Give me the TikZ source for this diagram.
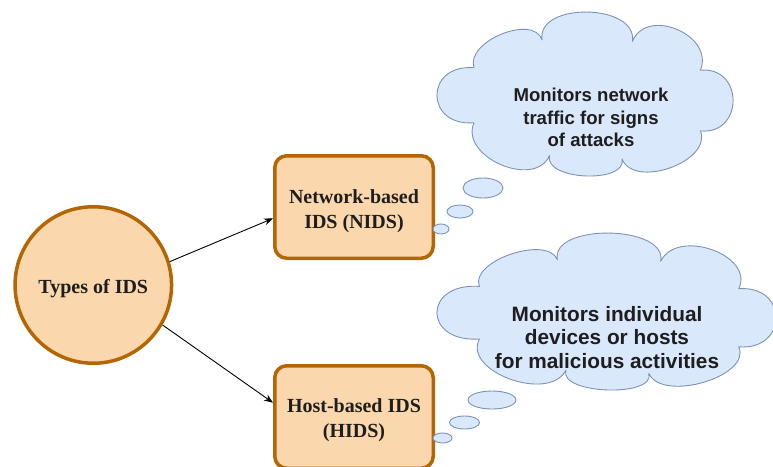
\documentclass[tikz,border=0pt]{standalone}
\usepackage{fontspec}
\setmainfont{Liberation Serif}
\setsansfont{Liberation Sans}
\usetikzlibrary{shapes.geometric,arrows.meta,calc}

\definecolor{peach}{HTML}{FAD7AC}
\definecolor{rust}{HTML}{B46504}
\definecolor{skyfill}{HTML}{DAE8FC}
\definecolor{skyline}{HTML}{7D93B5}
\definecolor{ink}{HTML}{1E1E1E}

% Outline of a thought cloud in a unit box (u to the right, v downwards)
\newcommand\cloudoutline{%
  (0.125,0.34) .. controls (0.095,0.18) and (0.325,0.01) .. (0.355,0.17)
  .. controls (0.335,-0.063) and (0.68,-0.053) .. (0.66,0.18)
  .. controls (0.708,-0.035) and (0.938,0.14) .. (0.89,0.355)
  .. controls (1.037,0.33) and (1.037,0.75) .. (0.89,0.725)
  .. controls (0.93,0.912) and (0.665,1.082) .. (0.625,0.895)
  .. controls (0.645,1.048) and (0.36,1.028) .. (0.38,0.875)
  .. controls (0.33,1.082) and (0.075,0.882) .. (0.125,0.675)
  .. controls (-0.042,0.70) and (-0.042,0.315) .. (0.125,0.34) -- cycle}

\tikzset{
  idsbox/.style={draw=rust, fill=peach, line width=3.5pt, rounded corners=12pt,
    minimum width=158.5pt, minimum height=102.5pt, inner sep=0pt},
  idscircle/.style={circle, draw=rust, fill=peach, line width=3.5pt,
    minimum size=156.5pt, inner sep=0pt},
  idstext/.style={align=center, text=ink, inner sep=0pt,
    font=\bfseries\fontsize{20}{24.5}\selectfont},
  cloudshape/.style={draw=skyline, fill=skyfill, line width=0.9pt, line join=round},
  bubble/.style={ellipse, draw=skyline, fill=skyfill, line width=0.9pt, inner sep=0pt},
  cloudtext/.style={align=center, text=ink, inner sep=0pt, font=\sffamily\bfseries},
  link/.style={draw=black, line width=0.9pt, -{Stealth[length=9pt,width=7pt]}},
}

\begin{document}
\begin{tikzpicture}[x=1pt, y=1pt]
  \fill[white] (0,0) rectangle (773,-466);
  \useasboundingbox (0,0) rectangle (773,-466);

  % thought clouds
  \begin{scope}[shift={(437,-12)}, xscale=296, yscale=-164]
    \draw[cloudshape] \cloudoutline;
  \end{scope}
  \begin{scope}[shift={(437,-233)}, xscale=339, yscale=-157]
    \draw[cloudshape] \cloudoutline;
  \end{scope}

  % root and the two kinds of IDS
  \node[idscircle] (types) at (93.3,-285) {};
  \node[idstext] (typestext) at (93.3,-289) {Types of IDS};

  \node[idsbox] (nids) at (354,-207) {};
  \node[idstext] (nidstext) at ($(nids.center)+(0,-4)$) {Network-based\\IDS (NIDS)};

  \node[idsbox] (hids) at (354,-417) {};
  \node[idstext] (hidstext) at ($(hids.center)+(0,-3)$) {Host-based IDS\\(HIDS)};

  % trailing bubbles of the clouds
  \node[bubble, minimum width=40pt, minimum height=20pt] (nb1) at (483,-188) {};
  \node[bubble, minimum width=26pt, minimum height=13pt] (nb2) at (460,-211.5) {};
  \node[bubble, minimum width=16pt, minimum height=10pt] (nb3) at (441,-229) {};

  \node[bubble, minimum width=48pt, minimum height=18pt] (hb1) at (492,-400) {};
  \node[bubble, minimum width=30pt, minimum height=13pt] (hb2) at (464.5,-422.5) {};
  \node[bubble, minimum width=19pt, minimum height=10pt] (hb3) at (442.5,-438) {};

  % cloud texts
  \node[cloudtext, font=\sffamily\bfseries\fontsize{18.6}{22.5}\selectfont]
    (nidsnote) at (591,-117.8) {Monitors network\\traffic for signs\\of attacks};
  \node[cloudtext, font=\sffamily\bfseries\fontsize{20.8}{23.3}\selectfont]
    (hidsnote) at (607,-337.5) {Monitors individual\\devices or hosts\\for malicious activities};

  % connectors
  \draw[link] (types.17.6) -- (nids.188.4);
  \draw[link] (types.-30.8) -- (hids.170.9);
\end{tikzpicture}
\end{document}
